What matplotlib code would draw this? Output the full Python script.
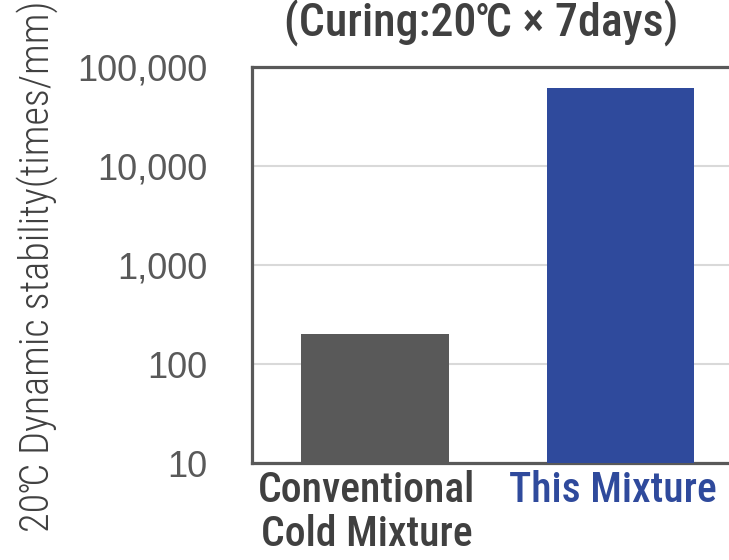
import matplotlib
matplotlib.use("Agg")
import matplotlib.pyplot as plt
import matplotlib.transforms as mtrans
from matplotlib.ticker import FuncFormatter, NullLocator

categories = ["Conventional\nCold Mixture", "This Mixture"]
values = [200, 61000]
bar_colors = ["#595959", "#2F4A9C"]
label_colors = ["#404040", "#2F4A9C"]
yticks = [10, 100, 1000, 10000, 100000]

cond = ["Roboto Condensed", "Liberation Sans", "DejaVu Sans"]
plt.rcParams["font.family"] = cond

fig = plt.figure(figsize=(7.29, 5.6), dpi=100)
ax = fig.add_axes([0.3457, 0.1732, 0.6742, 0.7072])

ax.bar(range(len(values)), values, width=0.6, color=bar_colors, zorder=3)
ax.set_yscale("log")
ax.set_ylim(10, 100000)
ax.set_xlim(-0.5, 1.5)
ax.set_yticks(yticks)
ax.yaxis.set_major_formatter(FuncFormatter(lambda v, p: f"{v:,.0f}"))
ax.yaxis.set_minor_locator(NullLocator())
ax.tick_params(axis="y", length=0, pad=32)
ax.tick_params(axis="x", length=0, pad=5)
for lbl in ax.get_yticklabels():
    lbl.set_fontfamily(["Liberation Sans", "DejaVu Sans"])
    lbl.set_fontsize(26)
    lbl.set_color("#595959")
ax.grid(axis="y", color="#D9D9D9", linewidth=1.5, zorder=0)

ax.set_xticks(range(len(categories)))
ax.set_xticklabels(categories, fontsize=30, fontweight="medium", linespacing=1.1)
shift = mtrans.ScaledTranslation(-8 / 100, 0, fig.dpi_scale_trans)
for lbl, c in zip(ax.get_xticklabels(), label_colors):
    lbl.set_color(c)
    lbl.set_transform(lbl.get_transform() + shift)

for s in ["left", "top", "bottom"]:
    ax.spines[s].set_color("#595959")
    ax.spines[s].set_linewidth(2.3)
ax.spines["right"].set_visible(False)

fig.text(0.66, 1 - 37 / 560, "(Curing:20℃ × 7days)", ha="center", va="baseline",
         fontsize=33, fontweight="medium", color="#404040")
fig.text(0.051, 0.525, "20℃ Dynamic stability(times/mm)", rotation=90,
         ha="center", va="center", fontsize=29, fontweight="light", color="#404040")

fig.savefig("out.png", dpi=100)
